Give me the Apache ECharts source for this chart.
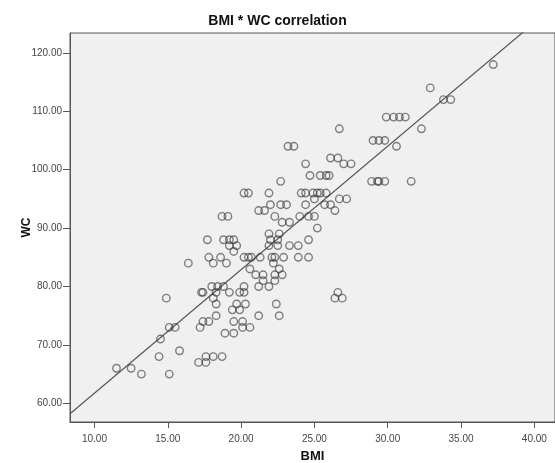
<!DOCTYPE html>
<html>
<head>
<meta charset="utf-8">
<script src="https://cdn.jsdelivr.net/npm/echarts@6/dist/echarts.min.js"></script>
<style>
  html, body { margin: 0; padding: 0; background: #ffffff; }
  #scatterChart { width: 555px; height: 463px; }
</style>
</head>
<body>
<div id="scatterChart"></div>
<script>
// values (BMI, WC pairs)
const bmi = [
  11.5, 12.5, 13.2, 14.4, 14.5, 15.1, 15.5, 15.1, 15.8, 17.2, 17.4, 17.8, 17.1, 17.6, 17.6, 18.1,
  18.7, 18.9, 19.5, 19.5, 20.1, 20.1, 20.6, 22.7, 20.2, 20.5, 21.9, 22.0, 22.7, 23.1, 21.2, 21.6,
  18.7, 19.1, 22.3, 22.8, 23.3, 21.9, 22.6, 17.7, 18.8, 19.2, 19.5, 22.0, 22.5, 19.2, 19.7, 21.9,
  22.5, 23.3, 23.9, 19.5, 17.8, 18.6, 20.2, 20.5, 20.7, 21.3, 22.1, 22.3, 22.9, 23.9, 16.4, 18.1,
  19.0, 22.2, 20.6, 22.6, 21.0, 21.5, 22.3, 22.8, 21.5, 22.3, 21.2, 21.9, 18.0, 18.4, 18.8, 20.2,
  17.3, 17.4, 18.3, 19.2, 19.9, 20.2, 14.9, 18.1, 18.3, 19.7, 20.3, 22.4, 19.4, 19.9, 21.2, 22.6,
  18.3, 24.6, 24.6, 26.6, 26.4, 26.9, 26.7, 29.9, 30.4, 30.8, 31.2, 23.2, 23.6, 29.0, 29.4, 29.8,
  30.6, 26.1, 26.6, 27.0, 27.5, 24.4, 24.7, 25.4, 25.8, 26.0, 28.9, 29.3, 29.4, 29.8, 31.6, 24.1,
  24.4, 24.9, 25.2, 25.4, 25.8, 25.0, 26.7, 27.2, 24.4, 25.7, 26.1, 26.4, 24.0, 24.6, 25.0, 25.2,
  37.2, 32.9, 33.8, 34.3, 32.3
];
const wc = [
  66, 66, 65, 68, 71, 73, 73, 65, 69, 73, 74, 74, 67, 68, 67, 68,
  68, 72, 72, 74, 74, 73, 73, 98, 96, 96, 96, 94, 94, 94, 93, 93,
  92, 92, 92, 91, 91, 89, 89, 88, 88, 88, 88, 88, 88, 87, 87, 87,
  87, 87, 87, 86, 85, 85, 85, 85, 85, 85, 85, 85, 85, 85, 84, 84,
  84, 84, 83, 83, 82, 82, 82, 82, 81, 81, 80, 80, 80, 80, 80, 80,
  79, 79, 79, 79, 79, 79, 78, 78, 77, 77, 77, 77, 76, 76, 75, 75,
  75, 88, 85, 79, 78, 78, 107, 109, 109, 109, 109, 104, 104, 105, 105, 105,
  104, 102, 102, 101, 101, 101, 99, 99, 99, 99, 98, 98, 98, 98, 98, 96,
  96, 96, 96, 96, 96, 95, 95, 95, 94, 94, 94, 93, 92, 92, 92, 90,
  118, 114, 112, 112, 107
];
const xTicks = [10, 15, 20, 25, 30, 35, 40];
const yTicks = [60, 70, 80, 90, 100, 110, 120];
// fit line: WC = fitIntercept + fitSlope * BMI
const fitIntercept = 40.6;
const fitSlope = 2.114;
const xRange = [8.33, 41.41];
const yRange = [56.8, 123.4];

const points = bmi.map((b, i) => [b, wc[i]]);
const fitLine = xRange.map(x => [x, fitIntercept + fitSlope * x]);

const labelFont = 'Liberation Sans, Arial, sans-serif';

let chart = echarts.init(document.getElementById('scatterChart'));
chart.setOption({
  animation: false,
  title: {
    text: 'BMI * WC correlation',
    left: 'center',
    top: 9,
    textStyle: {
      fontFamily: labelFont,
      fontSize: 14,
      fontWeight: 'bold',
      color: '#111'
    }
  },
  grid: {
    left: 70,
    right: 0,
    top: 33,
    bottom: 41,
    outerBoundsMode: 'none',
    show: true,
    backgroundColor: '#f0f0f0',
    borderColor: '#555',
    borderWidth: 1
  },
  xAxis: {
    type: 'value',
    min: xRange[0],
    max: xRange[1],
    name: 'BMI',
    nameLocation: 'middle',
    nameGap: 28,
    nameMoveOverlap: false,
    nameTextStyle: { fontFamily: labelFont, fontSize: 13, fontWeight: 'bold', color: '#111' },
    axisLine: { show: true, lineStyle: { color: '#555' } },
    axisTick: { show: true, length: 6, customValues: xTicks, lineStyle: { color: '#555' } },
    axisLabel: {
      customValues: xTicks,
      margin: 12,
      fontFamily: labelFont,
      fontSize: 10,
      color: '#444',
      formatter: v => v.toFixed(2)
    },
    splitLine: { show: false }
  },
  yAxis: {
    type: 'value',
    min: yRange[0],
    max: yRange[1],
    name: 'WC',
    nameLocation: 'middle',
    nameGap: 37,
    nameMoveOverlap: false,
    nameTextStyle: { fontFamily: labelFont, fontSize: 12, fontWeight: 'bold', color: '#111' },
    axisLine: { show: true, lineStyle: { color: '#555' } },
    axisTick: { show: true, length: 7, customValues: yTicks, lineStyle: { color: '#555' } },
    axisLabel: {
      customValues: yTicks,
      margin: 8,
      fontFamily: labelFont,
      fontSize: 10,
      color: '#444',
      formatter: v => v.toFixed(2)
    },
    splitLine: { show: false }
  },
  series: [
    {
      type: 'line',
      data: fitLine,
      symbol: 'none',
      clip: true,
      lineStyle: { color: '#555', width: 1.2 },
      z: 1
    },
    {
      type: 'scatter',
      data: points,
      symbol: 'circle',
      symbolSize: 7.5,
      itemStyle: {
        color: 'rgba(0,0,0,0)',
        borderColor: 'rgba(50,50,50,0.75)',
        borderWidth: 1.4
      },
      z: 2
    }
  ]
});
</script>
</body>
</html>
